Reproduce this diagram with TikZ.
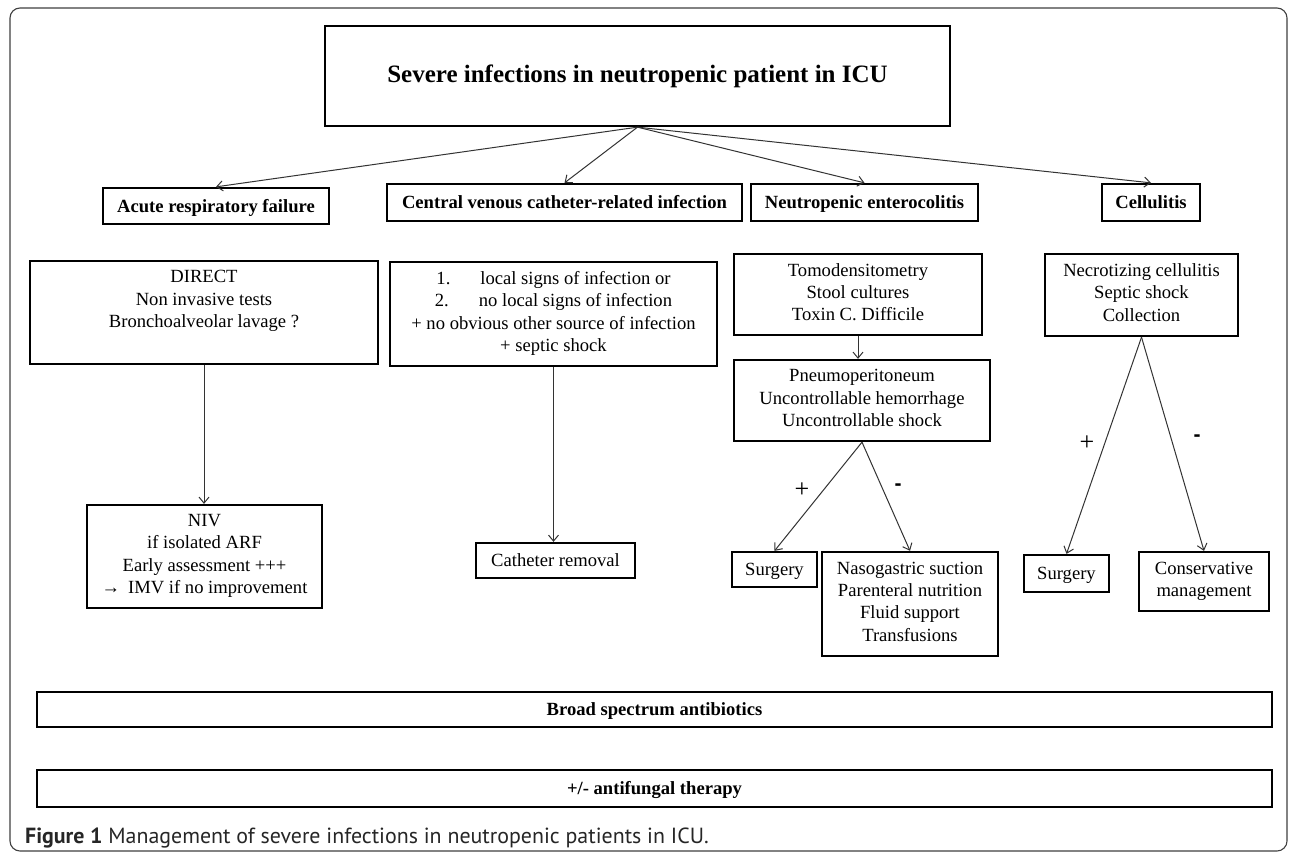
\documentclass[tikz,border=0pt]{standalone}
\usepackage{fontspec}
\setmainfont{Liberation Serif}
\newfontfamily\capfont{PT Sans}
\newfontfamily\signfont{Liberation Sans}
\usetikzlibrary{arrows.meta}
\newcommand\dgBody{\fontsize{18.6pt}{22.3pt}\selectfont}
\newcommand\dgBold{\fontsize{18.6pt}{22.3pt}\selectfont\bfseries}
\newcommand\dgTitle{\fontsize{25pt}{30pt}\selectfont\bfseries}
\newcommand\dgStrut{\rule[-5pt]{0pt}{22.3pt}}
\begin{document}
\begin{tikzpicture}[x=1pt,y=-1pt,
  box/.style={draw=black, line width=2.3pt, inner sep=2pt, align=center, font=\dgBody,
    execute at begin node=\dgStrut, execute at end node=\dgStrut},
  catbox/.style={box, font=\dgBold},
  conn/.style={draw=black!80, line width=1pt, -{Straight Barb[length=6pt,width=10pt]}},
  plussign/.style={inner sep=0pt, font=\fontsize{26pt}{26pt}\selectfont},
  minussign/.style={inner sep=0pt, font=\signfont\bfseries\fontsize{21pt}{21pt}\selectfont},
  framebox/.style={draw=black!75, line width=1.1pt, rounded corners=10pt}]
\useasboundingbox (0,0) rectangle (1290,852);
\fill[white] (0,0) rectangle (1290,852);
\draw[framebox] (10,8) rectangle (1287,851);

% title and categories
\node[box, font=\dgTitle, minimum width=625pt, minimum height=100pt] (title) at (637.5,76) {Severe infections in neutropenic patient in ICU};
\node[catbox, minimum width=226pt, minimum height=36pt] (arf) at (216,206) {Acute respiratory failure};
\node[catbox, minimum width=355pt, minimum height=37pt] (cvc) at (564.5,202.5) {Central venous catheter-related infection};
\node[catbox, minimum width=227pt, minimum height=37pt] (ne) at (864.5,202.5) {Neutropenic enterocolitis};
\node[catbox, minimum width=98pt, minimum height=37pt] (cel) at (1151,202.5) {Cellulitis};

% detail boxes
\node[box, minimum width=348pt, minimum height=103pt] (direct) at (204,312.5) {DIRECT\\Non invasive tests\\Bronchoalveolar lavage ?\\};
\node[box, minimum width=327pt, minimum height=104pt] (cvcd) at (553.5,314) {1.\hspace{30pt}local signs of infection or\\2.\hspace{30pt}no local signs of infection\\+ no obvious other source of infection\\+ septic shock};
\node[box, minimum width=248pt, minimum height=81pt] (tomo) at (858,294.5) {Tomodensitometry\\Stool cultures\\Toxin C. Difficile};
\node[box, minimum width=256pt, minimum height=81pt] (pneu) at (862,400.5) {Pneumoperitoneum\\Uncontrollable hemorrhage\\Uncontrollable shock};
\node[box, minimum width=193pt, minimum height=82pt] (celd) at (1141.5,295) {Necrotizing cellulitis\\Septic shock\\Collection};

% outcome boxes
\node[box, minimum width=235pt, minimum height=103pt] (niv) at (204.5,556.5) {NIV\\if isolated ARF\\Early assessment +++\\→\hspace{8pt}IMV if no improvement};
\node[box, minimum width=159pt, minimum height=35pt] (cath) at (555.5,560.5) {Catheter removal};
\node[box, minimum width=85pt, minimum height=35pt] (surga) at (774.5,569.5) {Surgery};
\node[box, minimum width=176pt, minimum height=104pt] (naso) at (910,604) {Nasogastric suction\\Parenteral nutrition\\Fluid support\\Transfusions};
\node[box, minimum width=85pt, minimum height=37pt] (surgb) at (1066.5,573.5) {Surgery};
\node[box, minimum width=130pt, minimum height=59pt] (cons) at (1204,581.5) {Conservative\\management};

% bottom bars
\node[catbox, minimum width=1235pt, minimum height=35pt] (abx) at (654.5,709.5) {Broad spectrum antibiotics};
\node[catbox, minimum width=1235pt, minimum height=37pt] (afg) at (654.5,788.5) {+/- antifungal therapy};

% connectors
\draw[conn] (title.south) -- (arf.north);
\draw[conn] (title.south) -- (cvc.north);
\draw[conn] (title.south) -- (ne.north);
\draw[conn] (title.south) -- (cel.north);
\draw[conn] (direct.south) -- (direct.south |- niv.north);
\draw[conn] (cvcd.south) -- (cvcd.south |- cath.north);
\draw[conn] (tomo.south) -- (tomo.south |- pneu.north);
\draw[conn] (pneu.south) -- (surga.north);
\draw[conn] (pneu.south) -- (naso.north);
\draw[conn] (celd.south) -- (surgb.north);
\draw[conn] (celd.south) -- (cons.north);

% signs
\node[plussign] (pa) at (802,490) {+};
\node[minussign] (ma) at (898,487) {-};
\node[plussign] (pb) at (1087,443) {+};
\node[minussign] (mb) at (1197,438) {-};

% caption
\node[anchor=base west, inner sep=0pt, text=black!85, font=\capfont\fontsize{21.9pt}{26pt}\selectfont] (cap) at (25,843) {\textbf{Figure 1} Management of severe infections in neutropenic patients in ICU.};
\end{tikzpicture}
\end{document}
